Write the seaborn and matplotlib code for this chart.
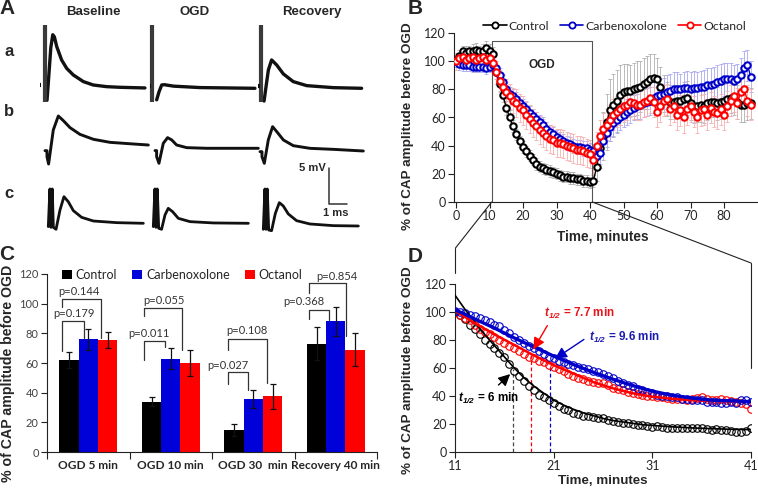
import numpy as np
import pandas as pd
import matplotlib
matplotlib.use("Agg")
import matplotlib.pyplot as plt
import seaborn as sns
from matplotlib.lines import Line2D
from matplotlib.patches import Patch

# ----------------------------- DATA -----------------------------------
# Panel A: CAP traces (time in ms, voltage in mV relative to trace baseline)
a_base_t = [0.39, 0.5, 0.6, 0.71, 0.8, 0.93, 1.2, 1.48, 1.85, 2.41, 2.96, 3.70, 4.44, 5.83]
a_base_v = [-1.8, 2.0, 5.5, 7.3, 7.0, 5.65, 3.8, 2.64, 1.71, 0.79, 0.32, 0.09, 0, -0.09]
a_ogd_t = [0.37, 0.5, 0.65, 0.8, 1.3, 2.78, 5.83]
a_ogd_v = [-1.6, -0.5, 0.46, 0.5, 0.3, 0.1, 0]
a_rec_t = [0.32, 0.45, 0.56, 0.74, 1.02, 1.39, 1.94, 2.69, 4.17, 5.74]
a_rec_v = [-1.77, 0.6, 2.55, 3.94, 3.24, 2.0, 0.93, 0.37, 0.09, 0]
a_artifact_t = [0.28, 0.13, 0.17]          # stimulus artifact position in each row-a trace
a_artifact_top = [8.65, 8.8, 8.8]
a_artifact_bottom = [-2.04, -1.85, -1.85]
b_base_t = [0, 0.11, 0.11, 0.2, 0.46, 0.74, 1.02, 1.39, 1.94, 2.69, 3.61, 4.91, 5.74]
b_base_v = [-0.79, -0.79, -1.62, -2.64, 2.08, 4.03, 3.38, 2.41, 1.48, 0.79, 0.37, 0.14, 0]
b_ogd_t = [0, 0.09, 0.09, 0.22, 0.46, 0.7, 0.93, 1.2, 1.76, 2.87, 5.74]
b_ogd_v = [-0.32, -0.32, -1.16, -2.08, 0.69, 1.48, 1.16, 0.46, 0.09, 0, 0]
b_rec_t = [0, 0.11, 0.11, 0.24, 0.46, 0.7, 0.93, 1.3, 1.85, 2.78, 4.07, 5.74]
b_rec_v = [-0.09, -0.09, -0.79, -1.71, 1.53, 3.38, 2.69, 1.53, 0.74, 0.37, 0.23, 0]
c_base_t = [0, 0.09, 0.15, 0.22, 0.28, 0.43, 0.65, 0.87, 1.11, 1.39, 1.85, 2.5, 3.8, 5.28]
c_base_v = [-0.46, 4.77, -0.56, 4.77, -0.56, -0.83, 1.85, 3.7, 3.0, 1.76, 0.83, 0.32, 0.09, 0]
c_ogd_t = [0, 0.09, 0.15, 0.22, 0.3, 0.46, 0.65, 0.83, 1.07, 1.39, 2.04, 3.33, 5.28]
c_ogd_v = [-0.46, 4.77, -0.56, 4.77, -0.69, -0.83, 1.16, 2.08, 1.62, 0.69, 0.23, 0.05, 0]
c_rec_t = [0, 0.09, 0.15, 0.22, 0.3, 0.46, 0.67, 0.89, 1.11, 1.39, 1.85, 2.59, 3.89, 5.28]
c_rec_v = [-0.46, 5.14, -0.46, 5.14, -0.56, -0.65, 1.76, 3.24, 2.78, 1.67, 0.74, 0.28, 0.05, 0]
a_columns = ["Baseline", "OGD", "Recovery"]
a_rows = ["a", "b", "c"]

# Panel B: time course, % of CAP amplitude before OGD (1-min samples 0..88)
time_b = list(range(0, 89))
ctrl_b = [100, 104, 107, 106, 107, 107, 108, 107, 107, 109, 107,
          105, 92, 84, 76, 67, 60, 54, 48, 43, 39, 36, 33, 30, 27, 25, 24, 23, 22, 21, 20,
          19, 18, 18, 17, 17, 16, 16, 15, 15, 14,
          15, 25, 38, 47, 57, 65, 69, 72, 76, 78, 79, 79, 80, 81, 82, 84, 85, 87, 88, 87,
          82, 77, 73, 71, 71, 72, 72, 73, 74, 70, 67, 68, 69, 68, 70, 71, 71, 70, 71, 72,
          73, 74, 73, 71, 69, 69, 70, 70]
ctrl_b_err = [4, 4, 4, 5, 4, 5, 5, 4, 5, 5, 5,
              5, 5, 5, 5, 5, 5, 4, 4, 4, 4, 4, 4, 4, 4, 4, 4, 4, 4, 4, 4,
              4, 4, 4, 4, 4, 4, 4, 4, 4, 4,
              4, 10, 14, 17, 20, 22, 22, 22, 21, 20, 19, 18, 19, 19, 18, 18, 19, 18, 17, 15,
              14, 13, 12, 12, 12, 11, 11, 12, 12, 12, 11, 11, 12, 12, 12, 11, 11, 12, 12, 12,
              12, 11, 11, 12, 12, 12, 12, 11]
carb_b = [100, 98, 97, 97, 97, 96, 96, 96, 96, 95, 96,
          97, 95, 90, 85, 80, 77, 75, 73, 70, 68, 66, 63, 61, 59, 57, 55, 52, 50, 48, 46,
          45, 43, 42, 41, 40, 39, 39, 38, 38, 37,
          36, 33, 35, 43, 49, 53, 56, 58, 60, 62, 64, 65, 67, 68, 69, 70, 71, 72, 74, 75,
          76, 77, 78, 79, 80, 80, 80, 81, 81, 80, 81, 81, 82, 82, 83, 83, 84, 85, 86, 87,
          87, 87, 86, 87, 90, 95, 97, 89]
carb_b_err = [4, 4, 4, 4, 4, 4, 4, 4, 4, 4, 4,
              4, 5, 5, 5, 5, 5, 5, 5, 5, 5, 5, 5, 5, 5, 5, 5, 5, 5, 5, 5,
              5, 5, 5, 5, 5, 5, 5, 5, 5, 5,
              5, 6, 8, 9, 10, 10, 10, 9, 9, 9, 9, 9, 9, 9, 10, 10, 10, 10, 11, 11,
              11, 11, 12, 12, 12, 12, 11, 11, 12, 12, 12, 11, 11, 12, 12, 12, 12, 12, 12, 12,
              12, 12, 11, 11, 12, 12, 11, 11]
oct_b = [100, 102, 103, 101, 102, 103, 101, 102, 103, 101, 102,
         99, 92, 86, 82, 78, 75, 72, 70, 67, 65, 62, 59, 56, 54, 51, 49, 47, 45, 44, 42,
         42, 41, 40, 39, 38, 37, 37, 36, 35, 34,
         30, 40, 47, 52, 55, 58, 62, 64, 66, 68, 69, 71, 70, 69, 69, 71, 72, 74, 71, 64,
         68, 72, 73, 66, 68, 62, 65, 60, 66, 68, 64, 60, 65, 66, 62, 67, 64, 63, 66, 62,
         68, 72, 75, 70, 78, 80, 72, 69]
oct_b_err = [6, 6, 6, 6, 6, 6, 6, 6, 6, 6, 6,
             7, 8, 8, 9, 9, 9, 9, 10, 10, 10, 10, 10, 10, 10, 10, 10, 10, 10, 10, 10,
             10, 10, 10, 10, 10, 10, 10, 10, 10, 10,
             10, 10, 11, 11, 11, 11, 11, 11, 11, 11, 11, 11, 11, 11, 11, 11, 11, 11, 11, 11,
             11, 11, 11, 11, 11, 11, 11, 11, 11, 11, 11, 11, 11, 11, 11, 11, 11, 11, 11, 11,
             11, 11, 11, 11, 11, 11, 11, 11]
series_names = ["Control", "Carbenoxolone", "Octanol"]

# Panel C: summary bars
cats_c = ["OGD 5 min", "OGD 10 min", "OGD 30  min", "Recovery 40 min"]
ctrl_c = [62, 34, 15, 73]
ctrl_c_err = [5.5, 3, 4, 11]
carb_c = [76, 63, 35.5, 88]
carb_c_err = [7, 7, 6, 10]
oct_c = [75.5, 60, 37.5, 69]
oct_c_err = [5.5, 8.5, 8.5, 11]
p_labels = ["p=0.179", "p=0.144", "p=0.011", "p=0.055", "p=0.027", "p=0.108", "p=0.368", "p=0.854"]

# Panel D: OGD period, normalized (0.5-min samples 11..41) and fits
time_d = [11 + 0.5 * i for i in range(61)]
ctrl_d = [100, 98, 95, 91, 88, 84, 80, 77, 74, 71, 68, 63, 58, 54, 51, 47, 44, 41, 39, 37,
          35, 33, 31, 30, 28, 27, 26, 25.5, 25, 24.5, 24, 23, 22, 21.5, 21, 20.5, 20, 19.5, 19, 18.5,
          18, 18.5, 18, 17.5, 17, 17.5, 17, 17.5, 17, 17, 17.5, 16.5, 16, 16.5, 16, 15.5, 15, 14.5, 14, 15, 17]
carb_d = [101, 100, 99, 98, 97, 96, 94, 93, 91, 90, 87, 85, 82, 80, 78, 76, 74, 72, 70, 68,
          67, 65, 64, 63, 62, 61, 60, 59, 58, 57, 56, 54, 53, 51, 49, 48, 47, 45, 44, 43,
          42, 41, 40, 40, 39, 39, 38, 38, 37, 37, 37, 36, 36, 36, 35, 35, 36, 35, 37, 37, 36]
oct_d = [100, 98, 96, 94, 91, 88, 86, 84, 82, 80, 78, 76, 74, 72, 70, 68, 67, 65, 64, 62,
         61, 59, 58, 56, 54, 53, 52, 51, 50, 49, 49, 48, 46, 45, 44, 43, 42, 41.5, 41, 40,
         40, 39.5, 39, 38.5, 38, 38, 38, 37.5, 38, 38.5, 39, 38, 37.5, 37, 38, 37, 36.5, 36, 35, 34, 31]
fit_t = [11, 12, 13, 14, 15, 16, 17, 18, 19, 20, 21, 22, 23, 24, 25, 26, 27, 28, 29, 30, 31, 33, 35, 37, 39, 41]
ctrl_fit = [112, 102, 93, 84, 76, 68, 60, 53, 47, 42, 37, 33.5, 30.5, 28, 26, 24, 22.5, 21.5, 20.5, 19.5, 19, 18, 17.2, 16.7, 16.2, 16]
carb_fit = [101.5, 98.5, 95, 91.8, 88.5, 85, 81.5, 78.2, 75, 71.8, 68.5, 65.5, 62.5, 59.7, 57, 54.5, 52, 49.7, 47.5, 45.4, 43.5, 40.5, 38.5, 37, 36.5, 36]
oct_fit = [101, 96.5, 92, 88, 84, 80.2, 76.5, 72.7, 69, 65.5, 62, 59, 56, 53, 50, 47.7, 45.5, 43.7, 42, 40.7, 39.5, 38, 37, 36.5, 36, 36]
thalf_times = [16.9, 18.7, 20.6]
thalf_levels = [59, 69, 62]

# ----------------------------- STYLE ----------------------------------
sns.set_style("ticks")
plt.rcParams["font.family"] = ["Liberation Sans", "DejaVu Sans"]
plt.rcParams["mathtext.fontset"] = "custom"
plt.rcParams["mathtext.rm"] = "Liberation Sans"
plt.rcParams["mathtext.it"] = "Liberation Sans:italic"
plt.rcParams["mathtext.bf"] = "Liberation Sans:bold"
try:
    plt.rcParams["mathtext.bfit"] = "Liberation Sans:italic:bold"
except KeyError:
    pass

W, H = 758, 490
BLK, BLU, RED = "#000000", "#0000c8", "#ff0000"
BAR_BLU, BAR_RED = "#0000d8", "#ff0000"
TICKFONT = ["Lato", "DejaVu Sans"]

fig = plt.figure(figsize=(W / 100, H / 100), dpi=100)


def fx(x):
    return x / W


def fy(y):
    return 1 - y / H


def rect(l, t, r, b):
    return [l / W, 1 - b / H, (r - l) / W, (b - t) / H]


def style_axes(ax, labelsize=9):
    sns.despine(ax=ax)
    for s in ["left", "bottom"]:
        ax.spines[s].set_linewidth(0.8)
        ax.spines[s].set_color("#222222")
    ax.tick_params(direction="out", length=4, width=0.8, color="#222222",
                   labelsize=labelsize, pad=2)
    for lab in ax.get_xticklabels() + ax.get_yticklabels():
        lab.set_family(TICKFONT)


# ----------------------------- PANEL A --------------------------------
axA = fig.add_axes([0, 1 - 240 / H, 380 / W, 240 / H])
axA.set_xlim(0, 380 / 18)
axA.set_ylim(0, 240 / 7.2)
axA.set_axis_off()
traces = [
    (a_base_t, a_base_v, 40, 87.3, 2.4), (a_ogd_t, a_ogd_v, 150, 88.3, 2.4), (a_rec_t, a_rec_v, 258.3, 88.3, 2.4),
    (b_base_t, b_base_v, 45, 145, 2.1), (b_ogd_t, b_ogd_v, 155, 148.3, 2.1), (b_rec_t, b_rec_v, 260, 151, 2.1),
    (c_base_t, c_base_v, 48.3, 223.3, 2.0), (c_ogd_t, c_ogd_v, 153.3, 223.3, 2.0), (c_rec_t, c_rec_v, 263.3, 226, 2.0),
]
for t, v, x0, base, lw in traces:
    sns.lineplot(x=np.array(t) + x0 / 18, y=np.array(v) + (240 - base) / 7.2, ax=axA,
                 sort=False, estimator=None, color="#111111", lw=lw, legend=False)
# row-a stimulus artifacts and the small pre-stimulus mark
for (x0, base), at, atop, abot in zip([(40, 87.3), (150, 88.3), (258.3, 88.3)],
                                      a_artifact_t, a_artifact_top, a_artifact_bottom):
    y0 = (240 - base) / 7.2
    axA.plot([x0 / 18 + at] * 2, [y0 + abot, y0 + atop], color="#3a3a3a", lw=3.0,
             solid_capstyle="butt")
    axA.plot([x0 / 18 - 0.02, x0 / 18 + 0.08], [y0 + 0.3, y0 + 0.3], color="#111111", lw=3.0,
             solid_capstyle="butt")
# scale bar
sx = 329 / 18
axA.plot([sx, sx, sx + 1], [(240 - 168) / 7.2, (240 - 204) / 7.2, (240 - 204) / 7.2],
         color="#333333", lw=1.1)
fig.text(fx(326), fy(168), "5 mV", ha="right", va="center", fontsize=8, fontweight="bold")
fig.text(fx(336), fy(213), "1 ms", ha="center", va="center", fontsize=8, fontweight="bold")
for name, xp in zip(a_columns, [93, 195, 312]):
    fig.text(fx(xp), fy(12), name, ha="center", va="center", fontsize=9.5, fontweight="bold")
for name, yp in zip(a_rows, [51, 111, 193]):
    fig.text(fx(9), fy(yp), name, ha="center", va="center", fontsize=12, fontweight="bold")

# ----------------------------- PANEL B --------------------------------
axB = fig.add_axes(rect(454, 33, 757, 202))
cols = [BLK, BLU, RED]
ecols = ["#b0b0b0", "#a8a8f0", "#f6b0b0"]
vals_b = [ctrl_b, carb_b, oct_b]
errs_b = [ctrl_b_err, carb_b_err, oct_b_err]
for vals, errs, ec in zip(vals_b, errs_b, ecols):
    axB.errorbar(time_b, vals, yerr=errs, fmt="none", ecolor=ec, elinewidth=0.6,
                 capsize=1.3, capthick=0.6, zorder=1)
for idx in [1, 2, 0]:
    sns.lineplot(x=time_b, y=vals_b[idx], ax=axB, color=cols[idx], lw=1.0, marker="o",
                 markersize=4.6, markerfacecolor="white", markeredgecolor=cols[idx],
                 markeredgewidth=1.5, errorbar=None, legend=False, zorder=3 + idx)
axB.plot([10.65, 10.65, 40.7, 40.7], [0, 114.6, 114.6, 0], color="#555555", lw=0.8, zorder=2)
axB.text(25.6, 97.5, "OGD", ha="center", va="center", fontsize=8.5, fontweight="bold")
axB.set_xlim(-0.6, 89.85)
axB.set_ylim(0, 120)
axB.set_xticks(range(0, 81, 10))
axB.set_yticks(range(0, 121, 20))
style_axes(axB)
axB.set_xlabel("Time, minutes", fontsize=9.8, fontweight="bold")
axB.xaxis.set_label_coords(0.49, -0.165)
axB.set_ylabel("% of CAP amplitude before OGD", fontsize=9.7, fontweight="bold")
axB.yaxis.set_label_coords(-0.132, 0.45)
hB = [Line2D([0], [0], color=c, lw=1.2, marker="o", markersize=4.5, markerfacecolor="white",
             markeredgecolor=c, markeredgewidth=1.3) for c in cols]
axB.legend(hB, series_names, ncol=3, loc="center", bbox_to_anchor=(0.53, 1.04), frameon=False,
           handlelength=1.9, handletextpad=0.15, columnspacing=0.9, borderaxespad=0,
           prop={"family": TICKFONT, "size": 8.8})

# ----------------------------- PANEL C --------------------------------
axC = fig.add_axes(rect(47, 274, 377, 452))
dfC = pd.DataFrame({
    "cat": cats_c * 3,
    "group": [series_names[0]] * 4 + [series_names[1]] * 4 + [series_names[2]] * 4,
    "value": ctrl_c + carb_c + oct_c,
})
sns.barplot(data=dfC, x="cat", y="value", hue="group", order=cats_c, hue_order=series_names,
            palette=[BLK, BAR_BLU, BAR_RED], width=0.7, errorbar=None, ax=axC,
            saturation=1, legend=False, edgecolor="none")
errs_c = [ctrl_c_err, carb_c_err, oct_c_err]
vals_c = [ctrl_c, carb_c, oct_c]
patches = axC.patches
for gi in range(3):
    xs = [patches[gi * 4 + k].get_x() + patches[gi * 4 + k].get_width() / 2 for k in range(4)]
    axC.errorbar(xs, vals_c[gi], yerr=errs_c[gi], fmt="none", ecolor="#111111",
                 elinewidth=0.9, capsize=2.5, capthick=0.9, zorder=5)
# significance brackets: (category, left offset, right offset, top, left bottom, right bottom, text x, text y)
brackets = [
    (0, -0.32, -0.05, 88, 68, 77, -0.42, 93.7),
    (0, -0.32, 0.15, 103, 98, 77, -0.36, 108),
    (1, -0.32, -0.07, 75, 62, 71, -0.52, 80),
    (1, -0.32, 0.14, 97, 92, 69, -0.33, 102),
    (2, -0.31, -0.065, 54, 46, 42, -0.56, 58.5),
    (2, -0.31, 0.17, 76, 69, 46.5, -0.33, 82),
    (3, -0.33, -0.08, 96, 90, 89, -0.64, 101.5),
    (3, -0.33, 0.13, 114, 107, 78, -0.24, 118.5),
]
for (ci, lo, ro, top, lb, rb, tx, ty), lab in zip(brackets, p_labels):
    axC.plot([ci + lo, ci + lo, ci + ro, ci + ro], [lb, top, top, rb], color="#333333", lw=0.9, zorder=6)
    axC.text(ci + tx, ty, lab, ha="left", va="center", fontsize=8, color="#333333", family=TICKFONT)
axC.set_xlim(-0.5, 3.5)
axC.set_ylim(0, 120)
axC.set_yticks(range(0, 121, 20))
axC.set_xticks([-0.5, 0.5, 1.5, 2.5, 3.5])
axC.set_xticklabels([])
axC.set_xticks([0, 1, 2, 3], minor=True)
axC.set_xticklabels(cats_c, minor=True)
style_axes(axC, labelsize=8)
axC.tick_params(axis="x", which="minor", length=0, pad=6, labelsize=8.6)
axC.tick_params(axis="x", which="major", length=5)
for lab in axC.get_xticklabels(minor=True):
    lab.set_family(TICKFONT)
    lab.set_fontweight("bold")
for lab in axC.get_yticklabels():
    lab.set_color("#444444")
axC.set_xlabel("")
axC.set_ylabel("% of CAP amplitude before OGD", fontsize=10.2, fontweight="bold")
axC.yaxis.set_label_coords(-0.098, 0.44)
hC = [Patch(facecolor=c, edgecolor="none") for c in [BLK, BAR_BLU, BAR_RED]]
axC.legend(hC, series_names, ncol=3, loc="center", bbox_to_anchor=(0.41, 0.995), frameon=False,
           handlelength=0.8, handleheight=0.8, handletextpad=0.3, columnspacing=1.2, borderaxespad=0,
           prop={"family": TICKFONT, "size": 9})

# ----------------------------- PANEL D --------------------------------
axD = fig.add_axes(rect(455, 284, 751, 452))
for t0, lev, c in zip(thalf_times, thalf_levels, ["#444444", RED, BLU]):
    axD.plot([t0, t0], [0, lev], color=c, lw=0.9, ls=(0, (3, 2)), zorder=1)
for vals, c in zip([ctrl_d, oct_d, carb_d], [BLK, RED, BLU]):
    sns.lineplot(x=time_d, y=vals, ax=axD, linestyle="none", marker="o", markersize=5.4,
                 markerfacecolor="none", markeredgecolor=c, markeredgewidth=0.8,
                 errorbar=None, legend=False, zorder=2)
for vals, c, lw in zip([ctrl_fit, oct_fit, carb_fit], [BLK, RED, BLU], [1.2, 1.8, 2.4]):
    sns.lineplot(x=fit_t, y=vals, ax=axD, color=c, lw=lw, errorbar=None, legend=False, zorder=3)
arrow_kw = dict(arrowstyle="-|>,head_length=0.7,head_width=0.35", lw=1.0, mutation_scale=10)
axD.annotate("", xy=(16.8, 57), xytext=(15.2, 46.5), arrowprops=dict(color=BLK, **arrow_kw), zorder=5)
axD.annotate("", xy=(18.8, 71.5), xytext=(20.5, 92), arrowprops=dict(color=RED, **arrow_kw), zorder=5)
axD.annotate("", xy=(20.9, 65.5), xytext=(24.3, 81.5), arrowprops=dict(color=BLU, **arrow_kw), zorder=5)
th = r"$\mathbfit{t_{1/2}}$"
axD.text(14.4, 38.5, th + " = 6 min", ha="center", va="center", fontsize=8.5, fontweight="bold", color=BLK)
axD.text(23.6, 99, th + " = 7.7 min", ha="center", va="center", fontsize=8.5, fontweight="bold", color="#e8141b")
axD.text(24.6, 82, th + " = 9.6 min", ha="left", va="center", fontsize=8.5, fontweight="bold", color="#1c1cb0")
axD.set_xlim(11, 41)
axD.set_ylim(0, 120)
axD.set_xticks([11, 21, 31, 41])
axD.set_yticks(range(0, 121, 20))
style_axes(axD)
axD.set_xlabel("Time, minutes", fontsize=9.6, fontweight="bold")
axD.xaxis.set_label_coords(0.5, -0.135)
axD.set_ylabel("% of CAP amplitude before OGD", fontsize=9.7, fontweight="bold")
axD.yaxis.set_label_coords(-0.139, 0.49)

# ------------------------ connectors & letters -------------------------
for (x1, y1), (x2, y2) in [((491.7, 202), (455.5, 248)), ((455.5, 248), (455.5, 273)),
                           ((592.3, 202), (751, 263)), ((751, 263), (751, 368))]:
    fig.add_artist(Line2D([fx(x1), fx(x2)], [fy(y1), fy(y2)], transform=fig.transFigure,
                          color="#222222", lw=0.8))
for letter, (xp, yp) in zip("ABCD", [(7, 9), (415, 9), (7, 255), (415, 257)]):
    fig.text(fx(xp), fy(yp), letter, ha="center", va="center", fontsize=15, fontweight="bold")

fig.savefig("out.png", dpi=100)
